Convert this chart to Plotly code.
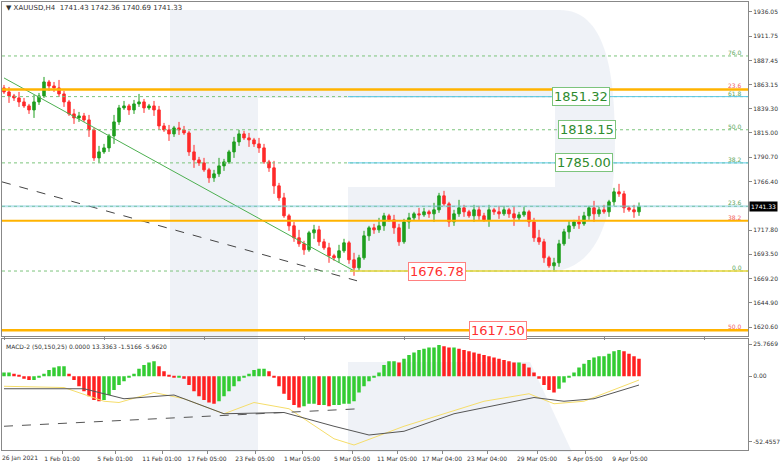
import plotly.graph_objects as go
from plotly.subplots import make_subplots

W, H = 782, 462
ML, MR, MT, MB = 2, 34, 2, 12

closes = [1856,1852,1850,1846,1842,1838,1846,1852,1866,1862,1860,1854,1846,1834,1830,1832,1828,1818,1790,1796,
          1800,1812,1826,1840,1842,1838,1844,1846,1840,1842,1838,1822,1818,1814,1820,1818,1815,1796,1788,1785,
          1778,1770,1774,1782,1786,1796,1806,1814,1810,1808,1804,1800,1786,1780,1762,1750,1732,1722,1710,1704,
          1698,1715,1718,1706,1700,1692,1690,1697,1705,1688,1680,1690,1712,1720,1718,1722,1732,1728,1720,1706,
          1726,1730,1734,1733,1736,1734,1738,1752,1744,1726,1734,1740,1736,1732,1738,1732,1728,1738,1736,1734,
          1738,1734,1730,1733,1736,1726,1710,1706,1690,1682,1685,1704,1716,1722,1726,1724,1732,1740,1734,1738,
          1736,1746,1756,1754,1740,1738,1736,1741.33]
first_open = 1860
wicks = [3, 5, 2, 6, 4, 2, 7, 3, 5, 2, 4, 8, 3, 2, 5, 4]
hist = [3,3,2,1,-2,-3,-3,-1,2,5,7,8,8,2,-3,-8,-12,-16,-19,-20,-19,-15,-11,-7,-4,-1,2,6,9,11,12,8,4,1,-1,-1,-2,-7,-12,-16,
        -19,-21,-22,-20,-16,-12,-8,-4,-1,2,5,6,6,4,-1,-8,-14,-19,-23,-25,-24,-22,-22,-23,-23,-24,-23,-23,-22,-22,
        -20,-13,-8,-4,-1,3,9,12,12,11,14,17,19,21,22,23,23,25,24,23,23,22,21,20,19,18,17,16,15,14,
        13,12,11,11,10,7,3,-2,-7,-11,-13,-10,-5,-1,3,7,10,13,15,16,16,18,20,21,20,18,16,14]
gray_i = [0, 16, 24, 34, 44, 56, 66, 73, 80, 90, 106, 112, 118, 127]
gray_v = [-10, -10, -18, -15, -30, -29, -40, -47, -44, -30, -17, -20, -18, -7]
yel_i = [0, 12, 20, 23, 30, 36, 44, 50, 57, 66, 70, 80, 96, 105, 110, 116, 127]
yel_v = [-8, -9, -20, -21, -13, -18, -30, -21, -26, -50, -55, -40, -20, -14, -22, -20, -3]
dash_i = [0, 71]
dash_v = [-40, -26]
first_label = "26 Jan 2021"
xtick_labels = ["1 Feb 01:00", "5 Feb 01:00", "11 Feb 01:00", "17 Feb 05:00", "23 Feb 05:00",
                "1 Mar 05:00", "5 Mar 05:00", "11 Mar 05:00", "17 Mar 04:00", "23 Mar 04:00", "29 Mar 05:00",
                "5 Apr 05:00", "9 Apr 05:00"]
xtick_pos = [11.6, 22.2, 31.6, 40.6, 50.2, 59.6, 69.6, 78.6, 87.6, 96.6, 106.6, 116.2, 125.2]
price_ticks = [1936.05, 1911.75, 1887.45, 1863.15, 1839.30, 1815.00, 1790.70, 1766.40, 1717.80, 1693.50,
               1669.20, 1644.90, 1620.60]
macd_ticks = [25.7669, 0.0, -52.4557]
fib_green = [(1892, "76.0"), (1851.32, "61.8"), (1818.15, "50.0"), (1785.00, "38.2"), (1741.5, "23.6"), (1676.78, "0.0")]
fib_orange = [(1858.5, "23.6"), (1727, "38.2"), (1617.5, "50.0")]
boxes = [(1851.32, "1851.32", 610, "green"), (1818.15, "1818.15", 616, "green"), (1785.00, "1785.00", 613, "green"),
         (1676.78, "1676.78", 437, "red"), (1617.50, "1617.50", 527, "red")]
trend_green = [(0, 1870), (70, 1677)]
trend_dash = [(-0.4, 1766), (70.6, 1667)]

opens = [first_open] + closes[:-1]
highs = [max(o, c) + wicks[i % len(wicks)] for i, (o, c) in enumerate(zip(opens, closes))]
lows = [min(o, c) - wicks[(i + 5) % len(wicks)] for i, (o, c) in enumerate(zip(opens, closes))]
idx = list(range(len(closes)))

fig = make_subplots(rows=2, cols=1, shared_xaxes=True, row_heights=[0.75, 0.25], vertical_spacing=0.007)
fig.add_trace(go.Candlestick(x=idx, open=opens, high=highs, low=lows, close=closes,
                             increasing=dict(line=dict(color="#1e9e1e", width=1), fillcolor="#1e9e1e"),
                             decreasing=dict(line=dict(color="#ff2a2a", width=1), fillcolor="#ff2a2a"),
                             whiskerwidth=0, showlegend=False), row=1, col=1)
hcol = []
for i, v in enumerate(hist):
    prev = hist[i - 1] if i else v
    hcol.append("#33cc33" if v >= prev else "#ff2020")
fig.add_trace(go.Bar(x=idx, y=hist, marker_color=hcol, marker_line_width=0, showlegend=False), row=2, col=1)
fig.add_trace(go.Scatter(x=yel_i, y=yel_v, mode="lines", line=dict(color="#f5dd6a", width=1), showlegend=False), row=2, col=1)
fig.add_trace(go.Scatter(x=gray_i, y=gray_v, mode="lines", line=dict(color="#555555", width=1), showlegend=False), row=2, col=1)
fig.add_trace(go.Scatter(x=dash_i, y=dash_v, mode="lines", line=dict(color="#555555", width=1, dash="dash"), showlegend=False), row=2, col=1)
fig.add_trace(go.Scatter(x=[p[0] for p in trend_green], y=[p[1] for p in trend_green], mode="lines",
                         line=dict(color="#4caf50", width=1), showlegend=False), row=1, col=1)
fig.add_trace(go.Scatter(x=[p[0] for p in trend_dash], y=[p[1] for p in trend_dash], mode="lines",
                         line=dict(color="#444444", width=1, dash="dash"), showlegend=False), row=1, col=1)

def px(x):
    return (x - ML) / (W - ML - MR)
def py(y):
    return (H - MB - y) / (H - MT - MB)

wm = "rgba(226,232,241,0.55)"
def path(pts):
    return "M " + " L ".join(f"{px(a):.4f},{py(b):.4f}" for a, b in pts) + " Z"
fig.add_shape(type="rect", xref="paper", yref="paper", x0=px(170), x1=px(258), y0=py(452), y1=py(10),
              fillcolor=wm, line_width=0, layer="below")
bowl = ("M %f,%f L %f,%f C %f,%f %f,%f %f,%f C %f,%f %f,%f %f,%f L %f,%f L %f,%f L %f,%f L %f,%f L %f,%f Z" % (
    px(258), py(10), px(560), py(10), px(605), py(10), px(615), py(70), px(615), py(140),
    px(615), py(225), px(595), py(272), px(545), py(272), px(348), py(272), px(348), py(187),
    px(555), py(187), px(555), py(98), px(258), py(98)))
fig.add_shape(type="path", xref="paper", yref="paper", path=bowl, fillcolor=wm, line_width=0, layer="below")
fig.add_shape(type="path", xref="paper", yref="paper", path=path([(348, 362), (530, 362), (572, 452), (348, 452)]),
              fillcolor=wm, line_width=0, layer="below")

for v, lab in fib_green:
    fig.add_shape(type="line", xref="paper", yref="y", x0=0, x1=1, y0=v, y1=v,
                  line=dict(color="#7cc47c", width=1, dash="dot"))
    fig.add_annotation(xref="paper", yref="y", x=0.995, y=v, text=lab, showarrow=False, xanchor="right",
                       yanchor="bottom", font=dict(size=6, color="#5aa55a"), yshift=-2)
for v in (1851.32, 1785.00):
    fig.add_shape(type="line", xref="paper", yref="y", x0=px(348), x1=1, y0=v, y1=v,
                  line=dict(color="#5bc8e8", width=1))
fig.add_shape(type="line", xref="paper", yref="y", x0=0, x1=1, y0=1741.5, y1=1741.5,
              line=dict(color="rgba(120,200,220,0.5)", width=2))
fig.add_shape(type="line", xref="paper", yref="y", x0=px(350), x1=1, y0=1676.78, y1=1676.78,
              line=dict(color="#e6d43a", width=1.5))
for v, lab in fib_orange:
    fig.add_shape(type="line", xref="paper", yref="y", x0=0, x1=1, y0=v, y1=v,
                  line=dict(color="#ffb300", width=2.5 if v != 1727 else 2))
    fig.add_annotation(xref="paper", yref="y", x=0.995, y=v, text=lab, showarrow=False, xanchor="right",
                       yanchor="bottom", font=dict(size=6, color="#f06060"), yshift=-2)
for v, t, xp, c in boxes:
    bc = "#2e8b2e" if c == "green" else "#ff3030"
    fig.add_annotation(xref="paper", yref="y", x=px(xp), y=v, text=t, showarrow=False,
                       font=dict(size=13, color=bc, family="DejaVu Sans"), bgcolor="white",
                       bordercolor="#7cc47c" if c == "green" else "#ff8080", borderwidth=1, borderpad=1)
fig.add_annotation(xref="paper", yref="y", x=1.0, y=1741.33, text="1741.33", showarrow=False, xanchor="left",
                   font=dict(size=6, color="white"), bgcolor="black", xshift=1)
fig.add_annotation(xref="paper", yref="paper", x=0, y=1, text="▼ XAUUSD,H4  1741.43 1742.36 1740.69 1741.33",
                   showarrow=False, xanchor="left", yanchor="top", font=dict(size=7, color="#333"), xshift=2)
fig.add_annotation(xref="paper", yref="y2 domain", x=0, y=1, text="MACD-2 (50,150,25) 0.0000 13.3363 -1.5166 -5.9620",
                   showarrow=False, xanchor="left", yanchor="top", font=dict(size=6, color="#333"), xshift=2, yshift=-2)
fig.add_annotation(xref="paper", yref="paper", x=0, y=0, text=first_label, showarrow=False, xanchor="left",
                   yanchor="top", font=dict(size=6, color="#333"), xshift=-2, yshift=-2)

ax = dict(showgrid=False, zeroline=False, showline=True, linecolor="#888", linewidth=1, mirror=True, automargin=False,
          tickfont=dict(size=6, color="#333", family="DejaVu Sans"), ticks="outside", ticklen=3, tickcolor="#888")
fig.update_xaxes(**ax, range=[-0.4, 148.8], rangeslider_visible=False, tickangle=0)
fig.update_xaxes(tickvals=xtick_pos, ticktext=xtick_labels, row=2, col=1)
fig.update_xaxes(showticklabels=False, row=1, col=1)
fig.update_yaxes(**ax, side="right")
fig.update_yaxes(range=[1612.1, 1946], tickvals=price_ticks, ticktext=[f"{t:.2f}" for t in price_ticks], row=1, col=1)
fig.update_yaxes(range=[-59, 30], tickvals=macd_ticks, ticktext=["25.7669", "0.00", "-52.4557"], row=2, col=1)
fig.update_layout(width=W, height=H, margin=dict(l=ML, r=MR, t=MT, b=MB, autoexpand=False), paper_bgcolor="white",
                  plot_bgcolor="rgba(0,0,0,0)", bargap=0.3, font=dict(family="DejaVu Sans"))
fig.write_html("out.html", config={"displayModeBar": False},
               post_script="document.body.style.margin='0';document.body.style.padding='0';document.body.style.overflow='hidden';")
